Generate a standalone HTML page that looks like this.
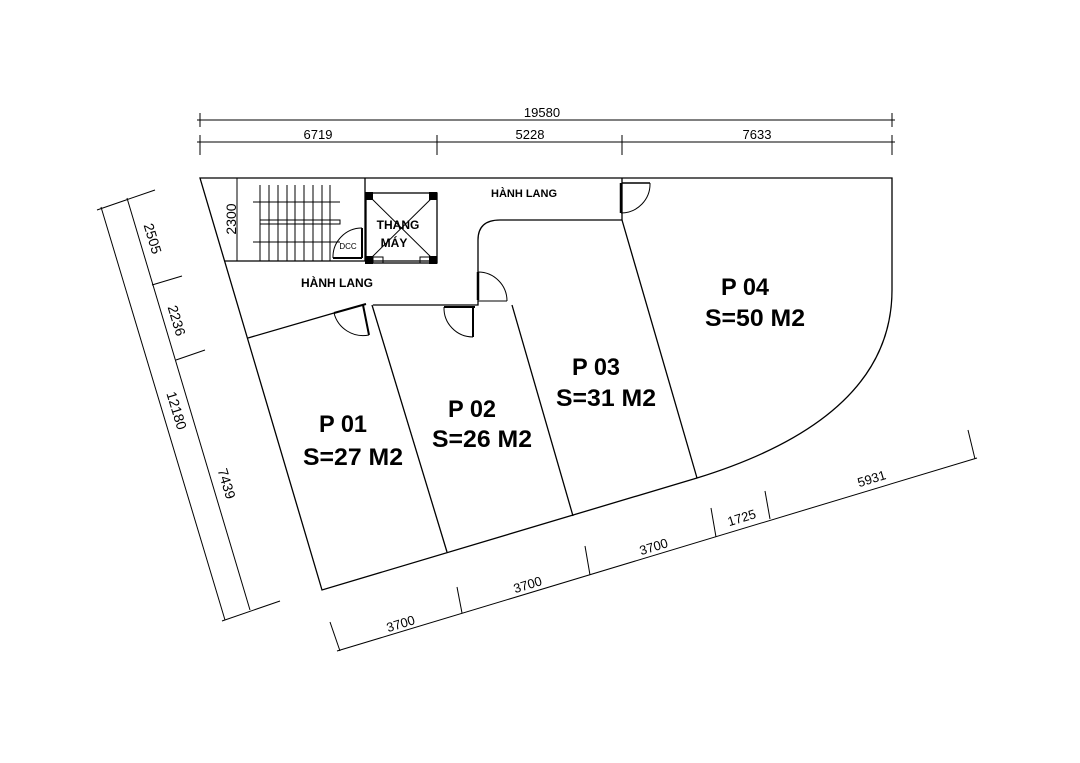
<!DOCTYPE html>
<html><head><meta charset="utf-8"><style>
html,body{margin:0;padding:0;background:#fff;}
svg{display:block;}
text{font-family:"Liberation Sans",Arial,sans-serif;fill:#000;}
</style></head><body>
<svg width="1080" height="763" viewBox="0 0 1080 763" xmlns="http://www.w3.org/2000/svg">
<g stroke="#000" fill="none" stroke-width="1">
<line x1="197" y1="120" x2="895" y2="120"/>
<line x1="200" y1="113" x2="200" y2="127"/><line x1="892" y1="113" x2="892" y2="127"/>
<line x1="197" y1="142" x2="895" y2="142"/>
<line x1="200" y1="135" x2="200" y2="155"/><line x1="437" y1="135" x2="437" y2="155"/>
<line x1="622" y1="135" x2="622" y2="155"/><line x1="892" y1="135" x2="892" y2="155"/>
<line x1="101" y1="207" x2="225" y2="620"/>
<line x1="127" y1="198" x2="250" y2="610"/>
<line x1="97" y1="210" x2="155" y2="190"/>
<line x1="152" y1="285" x2="182" y2="276"/>
<line x1="176" y1="360" x2="205" y2="350"/>
<line x1="222" y1="621" x2="280" y2="601"/>
<line x1="337" y1="651" x2="977" y2="458"/>
<line x1="330" y1="622" x2="340" y2="651"/>
<line x1="457" y1="587" x2="462" y2="613"/>
<line x1="585" y1="546" x2="590" y2="575"/>
<line x1="711" y1="508" x2="716" y2="537"/>
<line x1="765" y1="491" x2="770" y2="519"/>
<line x1="968" y1="430" x2="975" y2="459"/>
</g>
<g stroke="#000" fill="none" stroke-width="1.3">
<path d="M200 178 L892 178 L892 290 C892 380 820 440 697 478 L322 590 Z"/>
<line x1="372" y1="305" x2="447" y2="552"/>
<line x1="512" y1="305" x2="573" y2="516"/>
<line x1="622" y1="220" x2="697" y2="478"/>
<path d="M373 305 L478 305 L478 240 Q478 220 500 220 L622 220 L622 178"/>
<line x1="248" y1="338" x2="334" y2="313"/>
<line x1="334" y1="313" x2="366" y2="304" stroke-width="2"/>
<line x1="225" y1="261" x2="437" y2="261"/>
<line x1="365" y1="178" x2="365" y2="261"/>
<rect x="366" y="193" width="71" height="70"/>
<line x1="366" y1="193" x2="437" y2="263" stroke-width="1"/>
<line x1="437" y1="193" x2="366" y2="263" stroke-width="1"/>
</g>
<g fill="#000">
<rect x="365" y="192" width="8" height="8"/><rect x="429" y="192" width="8" height="8"/>
<rect x="365" y="256" width="8" height="8"/><rect x="429" y="256" width="8" height="8"/>
</g>
<g stroke="#000" fill="none" stroke-width="1">
<rect x="373" y="257" width="10" height="6"/><rect x="420" y="257" width="10" height="6"/>
<line x1="237" y1="178" x2="237" y2="261"/>
<line x1="260" y1="185" x2="260" y2="261"/><line x1="269" y1="185" x2="269" y2="261"/>
<line x1="278" y1="185" x2="278" y2="261"/><line x1="287" y1="185" x2="287" y2="261"/>
<line x1="295" y1="185" x2="295" y2="261"/><line x1="304" y1="185" x2="304" y2="261"/>
<line x1="313" y1="185" x2="313" y2="261"/><line x1="322" y1="185" x2="322" y2="261"/>
<line x1="330" y1="185" x2="330" y2="261"/>
<line x1="253" y1="202" x2="340" y2="202"/>
<line x1="253" y1="242" x2="340" y2="242"/>
<rect x="260" y="220" width="80" height="4"/>
<line x1="362" y1="228" x2="362" y2="258" stroke-width="2"/>
<line x1="333" y1="258" x2="362" y2="258" stroke-width="2"/>
<path d="M333 258 A29 29 0 0 1 362 228"/>
<line x1="363" y1="305" x2="369" y2="335" stroke-width="2"/>
<path d="M334 313 A30 30 0 0 0 369 335"/>
<line x1="444" y1="307" x2="475" y2="307" stroke-width="2"/>
<line x1="473" y1="307" x2="473" y2="337" stroke-width="2"/>
<path d="M444 307 A29 29 0 0 0 473 337"/>
<line x1="478" y1="272" x2="478" y2="300" stroke-width="2.5"/>
<line x1="478" y1="301" x2="507" y2="301"/>
<path d="M478 272 A29 29 0 0 1 507 301"/>
<line x1="621" y1="183" x2="621" y2="213" stroke-width="2.5"/>
<line x1="622" y1="183" x2="650" y2="183" stroke-width="1.5"/>
<path d="M650 183 A29 29 0 0 1 621 213"/>
</g>
<g font-size="13" text-anchor="middle">
<text x="542" y="117">19580</text>
<text x="318" y="139">6719</text>
<text x="530" y="139">5228</text>
<text x="757" y="139">7633</text>
<g font-size="14">
<text transform="translate(148,240) rotate(73)">2505</text>
<text transform="translate(172,322) rotate(73)">2236</text>
<text transform="translate(172,412) rotate(73)">12180</text>
<text transform="translate(222,485) rotate(73)">7439</text>
<text transform="translate(236,219) rotate(-90)">2300</text>
</g>
<text transform="translate(402,628) rotate(-17)">3700</text>
<text transform="translate(529,589) rotate(-17)">3700</text>
<text transform="translate(655,551) rotate(-17)">3700</text>
<text transform="translate(743,522) rotate(-17)">1725</text>
<text transform="translate(873,483) rotate(-17)">5931</text>
</g>
<g font-size="8" text-anchor="middle">
<text x="348" y="249">DCC</text>
</g>
<g font-weight="bold" text-anchor="middle">
<text x="524" y="197" font-size="11">HÀNH LANG</text>
<text x="337" y="287" font-size="12">HÀNH LANG</text>
<text x="398" y="229" font-size="12">THANG</text>
<text x="394" y="247" font-size="12">MÁY</text>
<g font-size="24">
<text x="343" y="432" textLength="48" lengthAdjust="spacingAndGlyphs">P 01</text>
<text x="353" y="465" textLength="100" lengthAdjust="spacingAndGlyphs">S=27 M2</text>
<text x="472" y="417" textLength="48" lengthAdjust="spacingAndGlyphs">P 02</text>
<text x="482" y="447" textLength="100" lengthAdjust="spacingAndGlyphs">S=26 M2</text>
<text x="596" y="375" textLength="48" lengthAdjust="spacingAndGlyphs">P 03</text>
<text x="606" y="406" textLength="100" lengthAdjust="spacingAndGlyphs">S=31 M2</text>
<text x="745" y="295" textLength="48" lengthAdjust="spacingAndGlyphs">P 04</text>
<text x="755" y="326" textLength="100" lengthAdjust="spacingAndGlyphs">S=50 M2</text>
</g>
</g>
</svg>
</body></html>
